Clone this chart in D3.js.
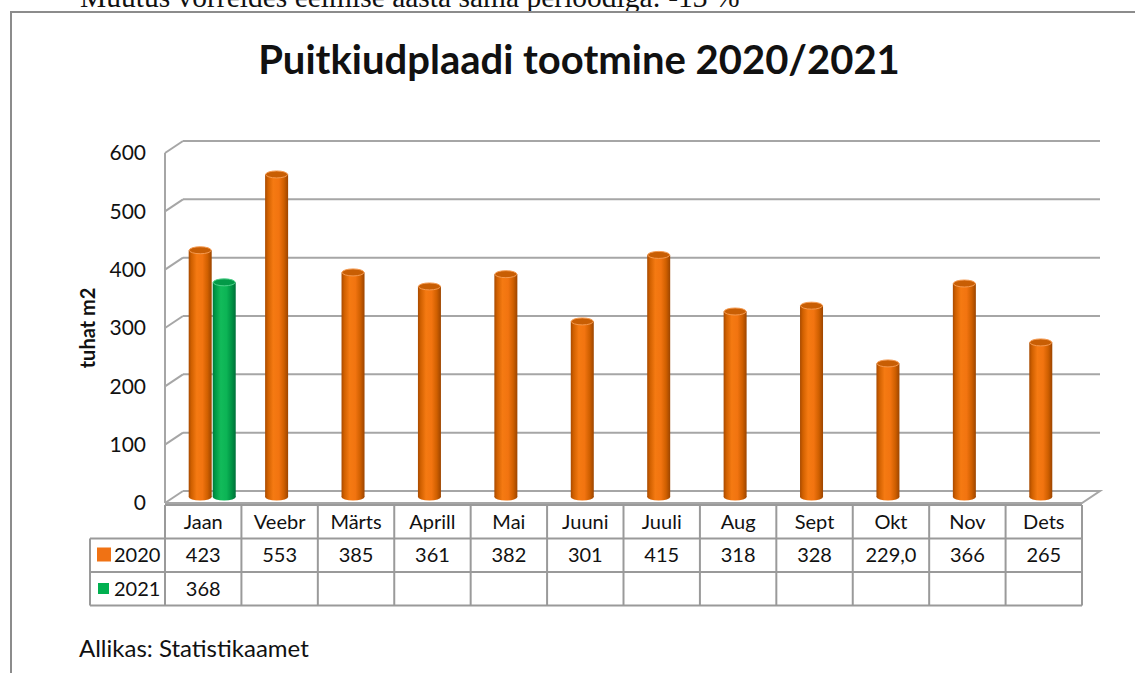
<!DOCTYPE html>
<html lang="et">
<head>
    <meta charset="utf-8">
    <style>
        body { margin: 0; background: #fff; }
        svg { display: block; }
        text { font-family: Lato, "Open Sans", sans-serif; fill: #111; }
    </style>
</head>
<body>
    <svg width="1135" height="673"></svg>
    <script src="https://cdn.jsdelivr.net/npm/d3@7/dist/d3.min.js"></script>
    <script>
        // Data
        const months = ["Jaan", "Veebr", "Märts", "Aprill", "Mai", "Juuni", "Juuli", "Aug", "Sept", "Okt", "Nov", "Dets"];
        const series = ["2020", "2021"];
        const values2020 = [423, 553, 385, 361, 382, 301, 415, 318, 328, 229, 366, 265];
        const values2021 = [368, null, null, null, null, null, null, null, null, null, null, null];
        const labels2020 = ["423", "553", "385", "361", "382", "301", "415", "318", "328", "229,0", "366", "265"];
        const labels2021 = ["368", "", "", "", "", "", "", "", "", "", "", ""];
        const yTicks = [0, 100, 200, 300, 400, 500, 600];

        const svg = d3.select("svg");
        const defs = svg.append("defs");

        // 3D geometry: front edge and depth offset of the back wall
        const left = 165, right = 1082;
        const depthX = 18, depthY = -12;

        const x = d3.scaleBand().domain(months).range([left, right]);
        const xSub = d3.scaleBand().domain(series).range([0, x.bandwidth()]).paddingOuter(0.59);
        const yFront = d3.scaleLinear().domain([0, 600]).range([503, 153]);
        const yBack = v => yFront(v) + depthY;
        const yMid = v => yFront(v) + depthY / 2;

        // Page frame and the cut-off line of text above it
        svg.append("text")
            .attr("x", 30).attr("y", 7)
            .style("font-family", "'Liberation Serif', serif")
            .style("font-size", "29px")
            .text("•");
        svg.append("text")
            .attr("x", 80).attr("y", 7)
            .style("font-family", "'Liberation Serif', serif")
            .style("font-size", "29.5px")
            .text("Muutus võrreldes eelmise aasta sama perioodiga: -13 %");

        svg.append("path")
            .attr("d", "M11,673 V12 H1135")
            .attr("fill", "none")
            .attr("stroke", "#8c8c8c")
            .attr("stroke-width", 2);

        // Title
        svg.append("text")
            .attr("x", 579).attr("y", 74)
            .attr("text-anchor", "middle")
            .style("font-size", "40px")
            .style("font-weight", "bold")
            .text("Puitkiudplaadi tootmine 2020/2021");

        // Walls: grid lines on back wall, diagonals on side wall, floor
        const grid = svg.append("g")
            .attr("stroke", "#a6a6a6")
            .attr("stroke-width", 2)
            .attr("fill", "none");

        grid.selectAll(".back")
            .data(yTicks.filter(d => d > 0))
            .join("line")
            .attr("x1", left + depthX).attr("x2", right + depthX)
            .attr("y1", d => yBack(d)).attr("y2", d => yBack(d));

        grid.selectAll(".side")
            .data(yTicks)
            .join("line")
            .attr("x1", left).attr("x2", left + depthX)
            .attr("y1", d => yFront(d)).attr("y2", d => yBack(d));

        grid.append("line")
            .attr("x1", left).attr("x2", left)
            .attr("y1", yFront(600)).attr("y2", yFront(0));

        grid.append("path")
            .attr("d", `M${left},${yFront(0)} H${right} l${depthX},${depthY} H${left + depthX}`);

        // Y axis labels
        const yAxis = svg.append("g")
            .attr("transform", `translate(${left},0)`)
            .call(d3.axisLeft(yFront).tickValues(yTicks).tickSize(0).tickPadding(19));
        yAxis.select(".domain").remove();
        yAxis.selectAll("text")
            .style("font-family", "Lato, sans-serif")
            .style("font-size", "21px")
            .attr("fill", "#111");

        svg.append("text")
            .attr("transform", `translate(95,${yFront(300)}) rotate(-90)`)
            .attr("text-anchor", "middle")
            .style("font-size", "20px")
            .style("font-weight", "bold")
            .text("tuhat m2");

        // Cylinder gradients
        function cylGradient(id, stops) {
            const g = defs.append("linearGradient").attr("id", id)
                .attr("x1", "0%").attr("x2", "100%").attr("y1", "0%").attr("y2", "0%");
            g.selectAll("stop").data(stops).join("stop")
                .attr("offset", d => d[0])
                .attr("stop-color", d => d[1]);
        }
        cylGradient("orangeBody", [["0%", "#a84a00"], ["12%", "#d06000"], ["35%", "#f57a12"], ["60%", "#f27410"], ["82%", "#cf5f00"], ["100%", "#9c4500"]]);
        cylGradient("greenBody", [["0%", "#007a38"], ["12%", "#009a47"], ["35%", "#12bb5a"], ["60%", "#0cb455"], ["82%", "#009444"], ["100%", "#00703a"]]);

        const barColors = { "2020": { body: "url(#orangeBody)", top: "#c85e04", rim: "#f59a50", flat: "#f07214" },
                            "2021": { body: "url(#greenBody)", top: "#039a48", rim: "#4fd08a", flat: "#00b050" } };

        const bars = [];
        months.forEach((m, i) => {
            if (values2020[i] != null) bars.push({ month: m, key: "2020", value: values2020[i] });
            if (values2021[i] != null) bars.push({ month: m, key: "2021", value: values2021[i] });
        });

        const barW = 23, ry = 3.5;
        const barG = svg.append("g").selectAll("g")
            .data(bars)
            .join("g")
            .attr("transform", d => `translate(${x(d.month) + xSub(d.key) + depthX / 2 + (xSub.bandwidth() - barW) / 2},0)`);

        barG.append("ellipse")
            .attr("cx", barW / 2).attr("cy", yMid(0))
            .attr("rx", barW / 2).attr("ry", ry)
            .attr("fill", d => barColors[d.key].body);
        barG.append("rect")
            .attr("x", 0).attr("width", barW)
            .attr("y", d => yMid(d.value))
            .attr("height", d => yMid(0) - yMid(d.value))
            .attr("fill", d => barColors[d.key].body);
        barG.append("ellipse")
            .attr("cx", barW / 2).attr("cy", d => yMid(d.value))
            .attr("rx", barW / 2 - 0.5).attr("ry", ry)
            .attr("fill", d => barColors[d.key].top)
            .attr("stroke", d => barColors[d.key].rim)
            .attr("stroke-width", 1);

        // Data table
        const tableTop = 505, rowH = 33.5, legendLeft = 90;
        const table = svg.append("g")
            .attr("stroke", "#9a9a9a")
            .attr("stroke-width", 2)
            .attr("fill", "none");

        table.append("line")
            .attr("x1", left).attr("x2", right)
            .attr("y1", tableTop).attr("y2", tableTop);
        [1, 2, 3].forEach(r => {
            table.append("line")
                .attr("x1", legendLeft).attr("x2", right)
                .attr("y1", tableTop + r * rowH).attr("y2", tableTop + r * rowH);
        });
        table.append("line")
            .attr("x1", legendLeft).attr("x2", legendLeft)
            .attr("y1", tableTop + rowH).attr("y2", tableTop + 3 * rowH);
        table.selectAll(".col")
            .data(months.concat(["end"]))
            .join("line")
            .attr("x1", d => d === "end" ? right : x(d))
            .attr("x2", d => d === "end" ? right : x(d))
            .attr("y1", tableTop).attr("y2", tableTop + 3 * rowH);

        const cellText = (row, labels) => svg.append("g").selectAll("text")
            .data(months)
            .join("text")
            .attr("x", d => x(d) + x.bandwidth() / 2)
            .attr("y", tableTop + row * rowH + rowH / 2 + 7)
            .attr("text-anchor", "middle")
            .style("font-size", "20px")
            .text((d, i) => labels[i]);

        cellText(0, months);
        cellText(1, labels2020);
        cellText(2, labels2021);

        // Legend keys inside the table
        svg.append("rect")
            .attr("x", 97).attr("y", tableTop + rowH + 9)
            .attr("width", 14).attr("height", 14)
            .attr("fill", barColors["2020"].flat);
        svg.append("rect")
            .attr("x", 98).attr("y", tableTop + 2 * rowH + 11)
            .attr("width", 11).attr("height", 11)
            .attr("fill", barColors["2021"].flat);
        series.forEach((s, i) => {
            svg.append("text")
                .attr("x", 114)
                .attr("y", tableTop + (i + 1) * rowH + rowH / 2 + 7)
                .style("font-size", "20px")
                .text(s);
        });

        // Source
        svg.append("text")
            .attr("x", 79).attr("y", 657)
            .style("font-size", "24px")
            .text("Allikas: Statistikaamet");
    </script>
</body>
</html>
